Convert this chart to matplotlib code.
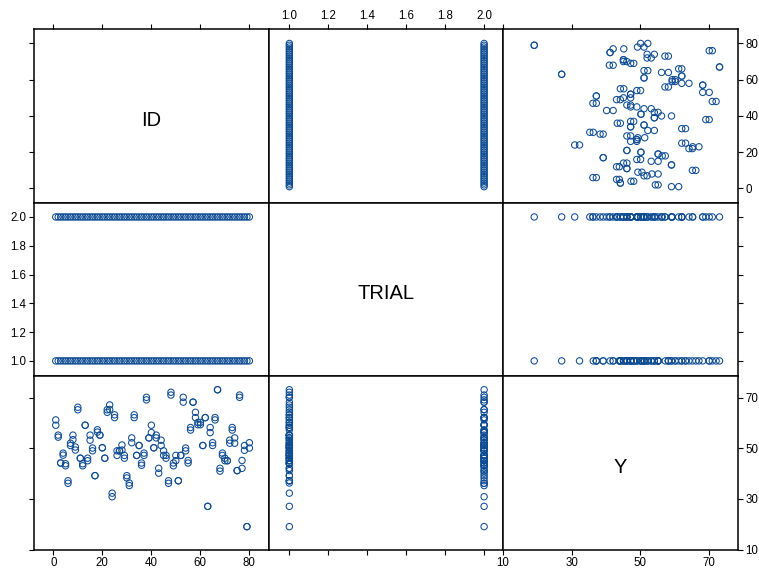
import numpy as np
import matplotlib
matplotlib.use("Agg")
import matplotlib.pyplot as plt

# subject ids, two trials per subject
ids = list(range(1, 81))
trials = [1, 2]

y_trial1 = [61.2, 55.2, 44.2, 48.1, 43.9, 37.2, 52.0, 55.2, 50.5, 66.2,
            46.1, 43.9, 59.1, 46.1, 55.2, 50.1, 39.2, 57.3, 55.2, 50.2,
            46.1, 65.2, 67.1, 32.3, 63.2, 49.0, 49.0, 51.3, 47.2, 39.2,
            36.3, 54.1, 63.2, 47.2, 51.1, 44.2, 48.1, 70.1, 54.1, 59.1,
            50.2, 55.2, 42.1, 53.2, 49.0, 47.2, 37.2, 72.1, 44.2, 47.2,
            37.2, 47.2, 70.1, 50.1, 45.2, 58.2, 68.2, 64.2, 60.2, 60.2,
            51.1, 62.1, 27.1, 58.2, 52.2, 62.1, 73.1, 42.1, 48.1, 46.1,
            45.1, 53.2, 58.2, 54.1, 41.2, 71.0, 45.2, 51.1, 19.1, 52.2]
y_trial2 = [59.1, 54.4, 44.2, 47.3, 43.1, 36.2, 51.1, 53.4, 49.3, 65.2,
            46.1, 43.1, 59.1, 45.1, 53.2, 49.0, 39.2, 56.4, 55.2, 50.2,
            46.1, 64.2, 65.3, 30.9, 62.1, 47.2, 49.0, 49.3, 46.1, 38.3,
            35.3, 52.2, 62.1, 47.2, 51.1, 43.3, 47.2, 69.1, 54.1, 56.2,
            50.2, 54.1, 40.2, 51.1, 47.2, 46.1, 36.2, 71.0, 43.1, 45.1,
            37.2, 47.2, 68.2, 49.0, 44.2, 57.2, 68.2, 62.1, 59.3, 59.3,
            51.1, 62.1, 27.1, 56.2, 51.1, 61.2, 73.1, 41.0, 47.2, 45.1,
            45.1, 52.0, 57.2, 52.0, 41.2, 70.1, 42.1, 49.2, 19.1, 50.1]

var_names = ["ID", "TRIAL", "Y"]
var_ticks = [[0, 20, 40, 60, 80],
             [1.0, 1.2, 1.4, 1.6, 1.8, 2.0],
             [10, 30, 50, 70]]
var_ticklabels = [["0", "20", "40", "60", "80"],
                  ["1.0", "1.2", "1.4", "1.6", "1.8", "2.0"],
                  ["10", "30", "50", "70"]]
var_limits = [(-8.0, 87.8), (0.893, 2.097), (10.0, 78.4)]

id_col = np.array(ids + ids, dtype=float)
trial_col = np.array([trials[0]] * len(ids) + [trials[1]] * len(ids), dtype=float)
y_col = np.array(y_trial1 + y_trial2)
columns = [id_col, trial_col, y_col]

plt.rcParams["font.family"] = ["Liberation Sans", "DejaVu Sans"]

W, H = 759, 571
fig = plt.figure(figsize=(W / 100, H / 100), dpi=100)

col_edges = [33.7, 268.5, 503.0, 737.7]
row_edges = [29.3, 203.0, 376.3, 549.7]

point_color = "#0E4C92"

for r in range(3):
    for c in range(3):
        x0, x1 = col_edges[c], col_edges[c + 1]
        y0, y1 = row_edges[r], row_edges[r + 1]
        ax = fig.add_axes([x0 / W, 1 - y1 / H, (x1 - x0) / W, (y1 - y0) / H])
        ax.set_xlim(var_limits[c])
        ax.set_ylim(var_limits[r])
        for sp in ax.spines.values():
            sp.set_linewidth(1.1)
            sp.set_color("black")

        if r == c:
            ax.text(0.5, 0.475, var_names[r], transform=ax.transAxes,
                    ha="center", va="center", fontsize=14.5)
        else:
            ax.scatter(columns[c], columns[r], s=21, facecolors="none",
                       edgecolors=point_color, linewidths=0.75, zorder=3)

        ax.set_xticks([])
        ax.set_yticks([])

        # outer axes: labels alternate sides, plain ticks on the other side
        tick_kw = dict(direction="out", length=3.5, width=0.8, labelsize=8.3, pad=2)
        if r == 0:
            ax.set_xticks(var_ticks[c])
            ax.set_xticklabels(var_ticklabels[c])
            ax.tick_params(axis="x", top=True, bottom=False, labeltop=(c == 1),
                           labelbottom=False, **tick_kw)
        if r == 2:
            ax.set_xticks(var_ticks[c])
            ax.set_xticklabels(var_ticklabels[c])
            ax.tick_params(axis="x", top=False, bottom=True, labeltop=False,
                           labelbottom=(c != 1), **tick_kw)
        if c == 0:
            ax.set_yticks(var_ticks[r])
            ax.set_yticklabels(var_ticklabels[r])
            ax.tick_params(axis="y", left=True, right=False, labelleft=(r == 1),
                           labelright=False, **tick_kw)
        if c == 2:
            ax.set_yticks(var_ticks[r])
            ax.set_yticklabels(var_ticklabels[r])
            ax.tick_params(axis="y", left=False, right=True, labelleft=False,
                           labelright=(r != 1), **tick_kw)

fig.savefig("out.png", dpi=100)
